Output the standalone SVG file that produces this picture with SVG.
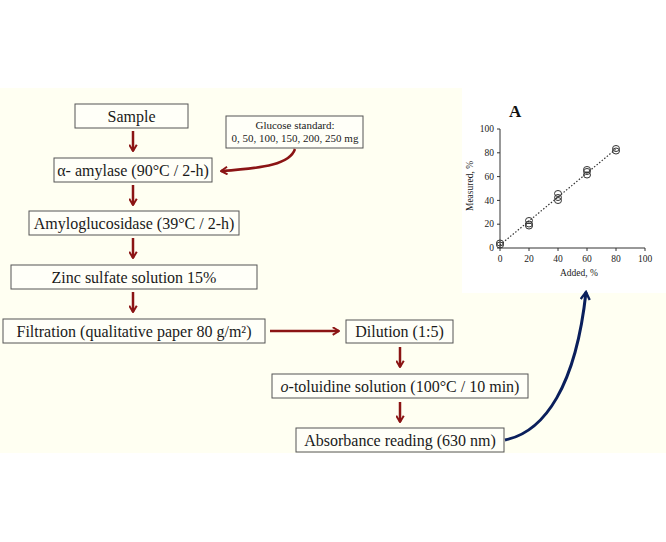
<svg xmlns="http://www.w3.org/2000/svg" width="666" height="542" viewBox="0 0 666 542">
<style>
.bx{fill:#fffff8;stroke:#555;stroke-width:1}
.t{font-family:"Liberation Serif",serif;font-size:16px;fill:#1a1a1a;text-anchor:middle}
.ts{font-family:"Liberation Serif",serif;font-size:11px;fill:#1a1a1a;text-anchor:middle}
.ax{font-family:"Liberation Serif",serif;font-size:9.5px;fill:#222}
.red{fill:none;stroke:#8b1414;stroke-width:2.5}
.pt{fill:none;stroke:#333;stroke-width:1}
</style>
<defs>
<marker id="ar" viewBox="0 0 10 10" refX="8.5" refY="5" markerWidth="3.6" markerHeight="3.6" orient="auto" markerUnits="strokeWidth">
<path d="M1.5,0.8 L8.5,5 L1.5,9.2" fill="none" stroke="#8b1414" stroke-width="2.2"/>
</marker>
<marker id="ab" viewBox="0 0 10 10" refX="8.5" refY="5" markerWidth="3.6" markerHeight="3.6" orient="auto" markerUnits="strokeWidth">
<path d="M1.5,0.8 L8.5,5 L1.5,9.2" fill="none" stroke="#0a1f5c" stroke-width="2.2"/>
</marker>
</defs>
<rect x="0" y="88" width="666" height="365" fill="#fffff2"/>
<rect x="462" y="88" width="204" height="205" fill="#ffffff"/>

<g id="sample"><rect class="bx" x="75" y="104" width="113" height="24"/><text class="t" x="131.5" y="121.5">Sample</text></g>
<g id="glucose"><rect class="bx" x="226" y="116" width="137" height="32"/><text class="ts" x="295" y="129">Glucose standard:</text><text class="ts" x="295" y="142">0, 50, 100, 150, 200, 250 mg</text></g>
<g id="amylase"><rect class="bx" x="54" y="158" width="158" height="24"/><text class="t" x="133" y="175.5">α- amylase (90°C / 2-h)</text></g>
<g id="amyloglucosidase"><rect class="bx" x="29" y="211" width="210" height="24"/><text class="t" x="134" y="228.5">Amyloglucosidase (39°C / 2-h)</text></g>
<g id="zinc"><rect class="bx" x="11" y="265" width="246" height="24"/><text class="t" x="134" y="282.5">Zinc sulfate solution 15%</text></g>
<g id="filtration"><rect class="bx" x="3" y="319" width="262" height="24"/><text class="t" x="134" y="336.5">Filtration (qualitative paper 80 g/m²)</text></g>
<g id="dilution"><rect class="bx" x="346" y="320" width="107" height="23"/><text class="t" x="399.5" y="337">Dilution (1:5)</text></g>
<g id="toluidine"><rect class="bx" x="272" y="374" width="256" height="24"/><text class="t" x="400" y="391.5"><tspan font-style="italic">o</tspan>-toluidine solution (100°C / 10 min)</text></g>
<g id="absorbance"><rect class="bx" x="296" y="428" width="208" height="24"/><text class="t" x="400" y="445.5">Absorbance reading (630 nm)</text></g>

<g id="chart">
<text x="509" y="117" font-family="Liberation Serif,serif" font-size="17" font-weight="bold" fill="#111">A</text>
<g stroke="#333" stroke-width="1" fill="none">
<path d="M500,129 V248 H645"/>
<path d="M497,129 H500 M497,152.8 H500 M497,176.6 H500 M497,200.4 H500 M497,224.2 H500 M497,248 H500"/>
<path d="M500,248 V251 M529,248 V251 M558,248 V251 M587,248 V251 M616,248 V251 M645,248 V251"/>
</g>
<g class="ax" text-anchor="end">
<text x="494" y="132">100</text><text x="494" y="156">80</text><text x="494" y="180">60</text><text x="494" y="204">40</text><text x="494" y="227">20</text><text x="494" y="251">0</text>
</g>
<g class="ax" text-anchor="middle">
<text x="500" y="262">0</text><text x="529" y="262">20</text><text x="558" y="262">40</text><text x="587" y="262">60</text><text x="616" y="262">80</text><text x="645" y="262">100</text>
<text x="579" y="276">Added, %</text>
<text transform="translate(473,186) rotate(-90)">Measured, %</text>
</g>
<path d="M500,245 L616,149" stroke="#333" stroke-width="1.2" stroke-dasharray="1.5,1.8" fill="none"/>
<g class="pt">
<ellipse cx="500" cy="243" rx="3.5" ry="3"/><ellipse cx="500" cy="245" rx="3.5" ry="3"/>
<ellipse cx="529" cy="220.5" rx="3.5" ry="3"/><ellipse cx="529" cy="224" rx="3.5" ry="3"/><ellipse cx="529" cy="226" rx="3.5" ry="3"/>
<ellipse cx="558" cy="193.5" rx="3.5" ry="3"/><ellipse cx="558" cy="197.5" rx="3.5" ry="3"/><ellipse cx="558" cy="200.5" rx="3.5" ry="3"/>
<ellipse cx="587" cy="169.5" rx="3.5" ry="3"/><ellipse cx="587" cy="171.5" rx="3.5" ry="3"/><ellipse cx="587" cy="175" rx="3.5" ry="3"/>
<ellipse cx="616" cy="148.5" rx="3.5" ry="3"/><ellipse cx="616" cy="151" rx="3.5" ry="3"/>
</g>
</g>

<g id="connectors">
<path class="red" d="M133,131 V151" marker-end="url(#ar)"/>
<path class="red" d="M133,185 V205" marker-end="url(#ar)"/>
<path class="red" d="M133,238 V258" marker-end="url(#ar)"/>
<path class="red" d="M133,292 V312" marker-end="url(#ar)"/>
<path class="red" d="M270,331 H339" marker-end="url(#ar)"/>
<path class="red" d="M400,347 V367" marker-end="url(#ar)"/>
<path class="red" d="M400,402 V422" marker-end="url(#ar)"/>
<path class="red" d="M295,149 C290,164 265,168 221,171" marker-end="url(#ar)"/>
<path d="M505,440 C545,432 576,385 586,292" fill="none" stroke="#0a1f5c" stroke-width="3" marker-end="url(#ab)"/>
</g>
</svg>
